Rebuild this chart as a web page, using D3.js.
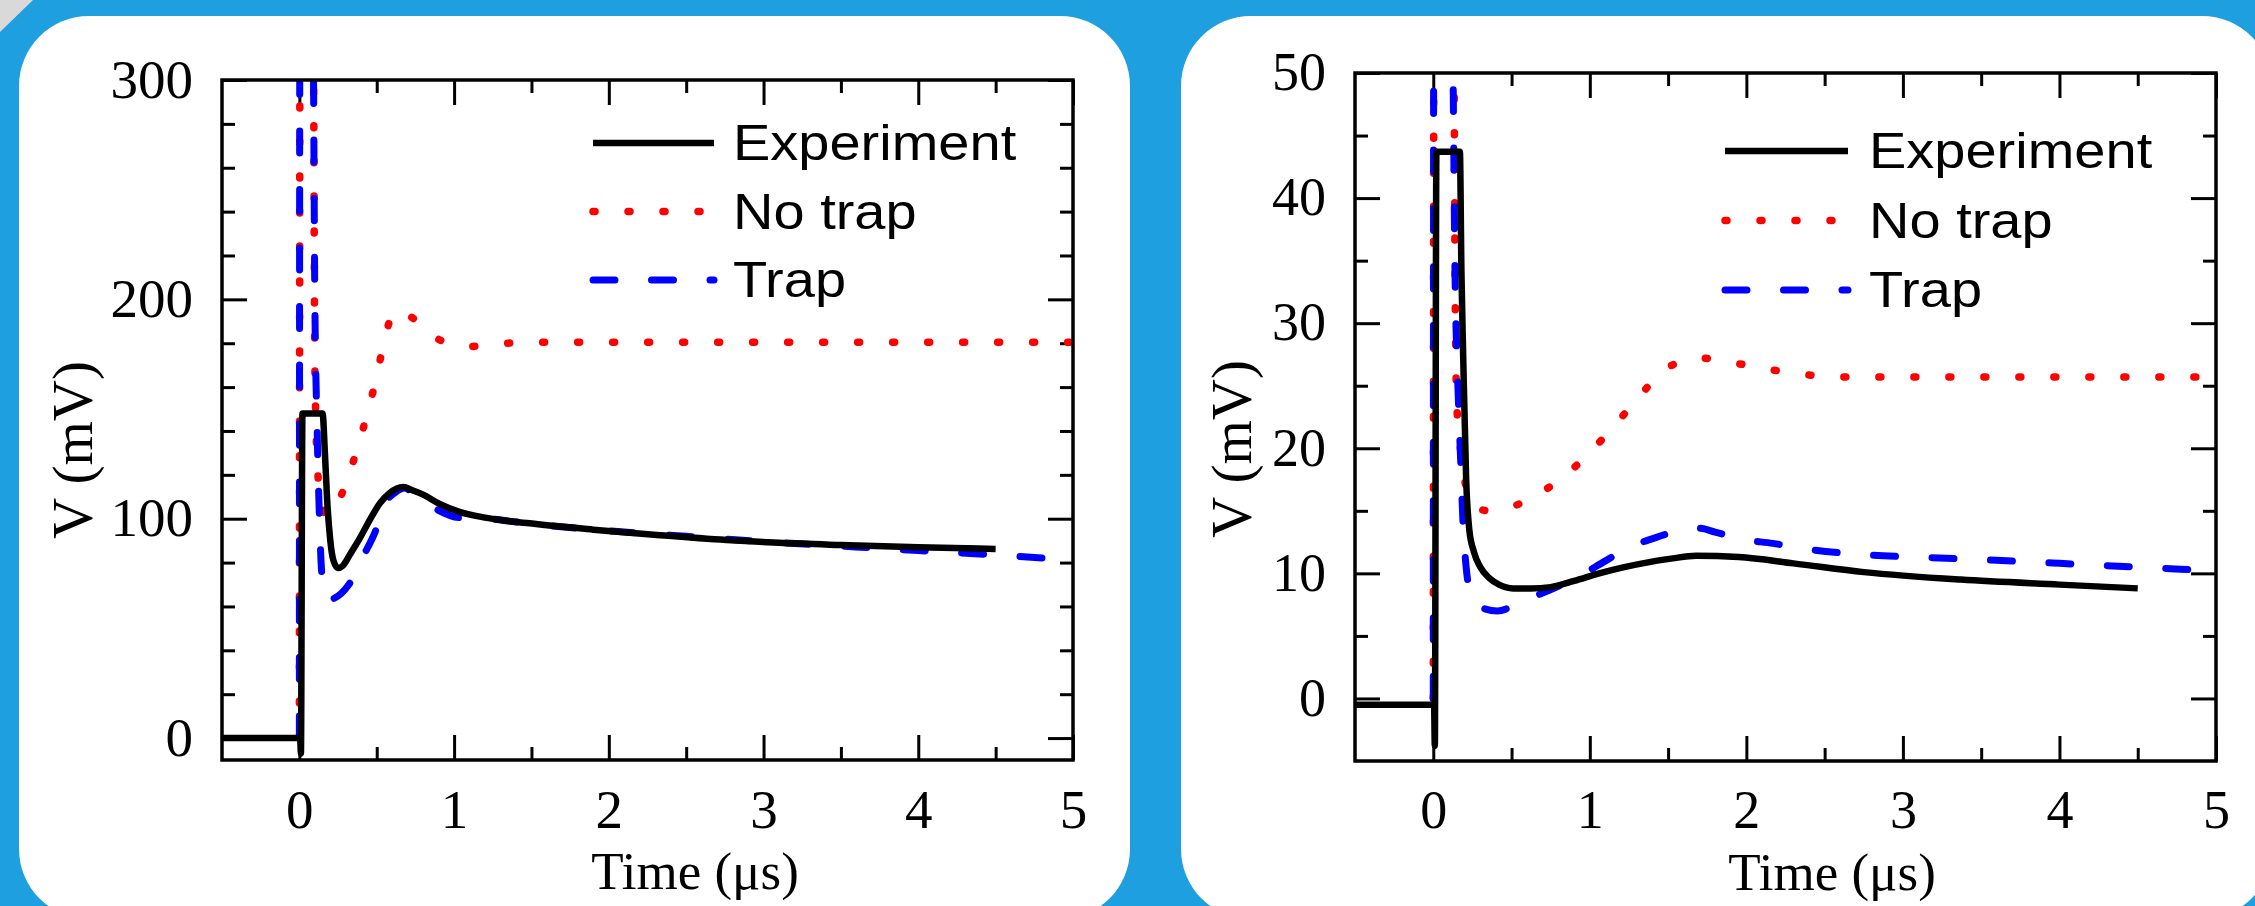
<!DOCTYPE html>
<html>
<head>
<meta charset="utf-8">
<script src="https://cdn.jsdelivr.net/npm/d3@7"></script>
<style>
  html, body { margin: 0; padding: 0; background: #1e9fdf; }
  svg { display: block; }
  .tick line { stroke: #000; stroke-width: 3; }
  .tick text { font-family: "Liberation Serif", "Times New Roman", serif; fill: #000; }
</style>
</head>
<body>
<script>
// --- DATOS ---
// Panel izquierdo: V (mV) vs Time (µs)
const expA = [[-0.5,0],[-0.02,0],[0.005,0],[0.01,-7],[0.02,148],[0.15,148],[0.165,130],[0.18,108],[0.2,90],
  [0.22,81],[0.25,77.5],[0.28,78.5],[0.33,84],[0.39,91],[0.46,100],[0.52,107],[0.58,111.5],[0.63,113.8],
  [0.67,114.4],[0.73,113],[0.8,111],[0.9,107],[1.04,103],[1.2,100.5],[1.47,98],[1.9,95],[2.33,92.5],
  [2.76,90.3],[3.1,89],[3.5,88],[4.0,87],[4.5,86.2]];
const noTrapA = [[0,0],[0.004,320],[0.09,320],[0.1,170],[0.12,120],[0.15,104],[0.19,101],[0.24,106],[0.3,116],
  [0.37,131],[0.435,147],[0.49,162],[0.54,178],[0.6,193],[0.64,195],[0.7,193],[0.76,190],[0.85,184],
  [0.96,180],[1.1,178.5],[1.25,179.5],[1.5,180.5],[5,180.5]];
const trapA = [[0,0],[0.003,320],[0.088,320],[0.1,200],[0.115,140],[0.13,100],[0.145,75],[0.18,63],[0.32,70],
  [0.41,82.6],[0.49,94],[0.555,107],[0.62,112],[0.68,114],[0.77,108.5],[0.855,105.4],[1.03,100.5],[1.23,100],
  [1.4,98.5],[2,94.5],[2.5,92],[3,89.5],[3.5,87.5],[4,85.5],[4.5,83.5],[5,81]];

// Panel derecho
const expB = [[-0.5,-0.5],[0.005,-0.5],[0.01,-3.8],[0.02,43.7],[0.17,43.7],[0.18,34],[0.19,28],[0.21,17.5],
  [0.23,13.5],[0.26,11.7],[0.3,10.5],[0.36,9.6],[0.42,9.1],[0.51,8.8],[0.62,8.8],[0.75,8.9],[0.9,9.4],
  [1.06,10],[1.22,10.5],[1.38,10.9],[1.53,11.2],[1.68,11.4],[1.95,11.3],[2.3,10.8],[2.75,10.1],[3.37,9.5],
  [4,9.1],[4.5,8.8]];
const noTrapB = [[0,0],[0.004,54],[0.13,54],[0.14,32],[0.15,23.6],[0.17,20.4],[0.2,17.5],[0.25,15.6],[0.35,15],
  [0.47,15.2],[0.65,16.2],[0.84,17.8],[1.01,19.8],[1.17,22],[1.32,24.2],[1.48,26.3],[1.6,27],[1.71,27.2],
  [1.93,26.8],[2.15,26.3],[2.37,25.9],[2.6,25.7],[5,25.7]];
const trapB = [[0,0],[0.003,54],[0.12,54],[0.14,33],[0.16,24],[0.175,19],[0.19,14],[0.21,10.5],[0.24,8.3],
  [0.3,7.3],[0.41,7.0],[0.57,7.8],[0.77,8.8],[0.92,9.7],[1.1,11],[1.24,12],[1.43,12.9],[1.6,13.5],[1.7,13.6],
  [1.8,13.3],[1.98,12.7],[2.17,12.4],[2.35,12.0],[2.74,11.5],[3.1,11.3],[3.5,11.1],[4,10.8],[4.5,10.5],[5,10.2]];

// Ejes
const xDomain = [-0.5, 5];
const xMajor = [0, 1, 2, 3, 4, 5];
const xMinor = [0.5, 1.5, 2.5, 3.5, 4.5];
const yMajorA = [0, 100, 200, 300];
const yMinorA = [20, 40, 60, 80, 120, 140, 160, 180, 220, 240, 260, 280];
const yMajorB = [0, 10, 20, 30, 40, 50];
const yMinorB = [5, 15, 25, 35, 45];

const seriesNames = ["Experiment", "No trap", "Trap"];
const xTitle = "Time (\u03BCs)";
const yTitle = "V (mV)";

// --- ESTILOS ---
const styles = [
  { stroke: "#000000", width: 6.5, dash: null },
  { stroke: "#ff0000", width: 7.5, dash: "2,33" },
  { stroke: "#0000ff", width: 7, dash: "22,36.5" }
];

// --- LIENZO ---
const W = 2255, H = 906;
const svg = d3.select("body").append("svg").attr("width", W).attr("height", H);

svg.append("rect").attr("width", W).attr("height", H).attr("fill", "#1e9fdf");
svg.append("path").attr("d", "M0,0L33,0L0,32Z").attr("fill", "#d9d9d9");

// tarjetas blancas
svg.append("rect").attr("x", 19).attr("y", 16).attr("width", 1111).attr("height", 903)
  .attr("rx", 70).attr("fill", "#fff");
svg.append("rect").attr("x", 1181).attr("y", 16).attr("width", 1091).attr("height", 903)
  .attr("rx", 70).attr("fill", "#fff");

function drawPanel(id, data, cfg) {
  const f = cfg.frame;
  const x = d3.scaleLinear().domain(xDomain).range([f.x0, f.x1]);
  const y = d3.scaleLinear().domain(cfg.yDomain).range([f.y1, f.y0]);
  const g = svg.append("g");

  g.append("clipPath").attr("id", "clip-" + id)
    .append("rect").attr("x", f.x0).attr("y", f.y0)
    .attr("width", f.x1 - f.x0).attr("height", f.y1 - f.y0);

  // Ticks (hacia dentro)
  const big = 25, small = 13;
  const addAxis = (axis, tx, ty, labels) => {
    const a = g.append("g").attr("transform", `translate(${tx},${ty})`).call(axis);
    a.select(".domain").remove();
    a.selectAll("text").style("font-size", cfg.tickFont + "px");
    if (!labels) a.selectAll("text").remove();
    return a;
  };
  addAxis(d3.axisBottom(x).tickValues(xMajor).tickSize(-big).tickPadding(29).tickFormat(d3.format("d")), 0, f.y1, true);
  addAxis(d3.axisBottom(x).tickValues(xMinor).tickSize(-small), 0, f.y1, false);
  addAxis(d3.axisTop(x).tickValues(xMajor).tickSize(-big), 0, f.y0, false);
  addAxis(d3.axisTop(x).tickValues(xMinor).tickSize(-small), 0, f.y0, false);
  const yl = addAxis(d3.axisLeft(y).tickValues(cfg.yMajor).tickSize(-big).tickPadding(29).tickFormat(d3.format("d")), f.x0, 0, true);
  yl.selectAll("text").attr("dy", "0.31em");
  addAxis(d3.axisLeft(y).tickValues(cfg.yMinor).tickSize(-small), f.x0, 0, false);
  addAxis(d3.axisRight(y).tickValues(cfg.yMajor).tickSize(-big), f.x1, 0, false);
  addAxis(d3.axisRight(y).tickValues(cfg.yMinor).tickSize(-small), f.x1, 0, false);

  // Curvas
  const line = d3.line().x(d => x(d[0])).y(d => y(d[1])).curve(d3.curveMonotoneX);
  const curves = g.append("g").attr("clip-path", `url(#clip-${id})`);
  [1, 2, 0].forEach(i => {
    curves.append("path")
      .attr("d", line(data[i]))
      .attr("fill", "none")
      .attr("stroke", styles[i].stroke)
      .attr("stroke-width", styles[i].width)
      .attr("stroke-dasharray", styles[i].dash)
      .attr("stroke-linecap", styles[i].dash ? "round" : "butt")
      .attr("stroke-linejoin", "round");
  });

  // Marco
  g.append("rect").attr("x", f.x0).attr("y", f.y0)
    .attr("width", f.x1 - f.x0).attr("height", f.y1 - f.y0)
    .attr("fill", "none").attr("stroke", "#000").attr("stroke-width", 3.5);

  // Leyenda
  const L = cfg.legend;
  seriesNames.forEach((name, i) => {
    const base = L.y + i * L.dy;
    const sy = base - 17;
    g.append("line")
      .attr("x1", f.x0 + L.x1 + 3).attr("x2", f.x0 + L.x2 - 3)
      .attr("y1", sy).attr("y2", sy)
      .attr("stroke", styles[i].stroke)
      .attr("stroke-width", styles[i].width)
      .attr("stroke-dasharray", styles[i].dash)
      .attr("stroke-linecap", styles[i].dash ? "round" : "butt");
    g.append("text")
      .attr("transform", `translate(${f.x0 + L.tx},${base}) scale(1.12,1)`)
      .style("font-family", "'Liberation Sans', Arial, sans-serif")
      .style("font-size", "50px")
      .text(name);
  });

  // Títulos de ejes
  g.append("text")
    .attr("transform", `translate(${cfg.xTitle[0]},${cfg.xTitle[1]})`)
    .attr("text-anchor", "middle")
    .style("font-family", "'Liberation Serif', 'Times New Roman', serif")
    .style("font-size", "53px")
    .text(xTitle);
  g.append("text")
    .attr("transform", `translate(${cfg.yTitle[0]},${cfg.yTitle[1]}) rotate(-90)`)
    .attr("text-anchor", "middle")
    .attr("dy", "0.35em")
    .style("font-family", "'Liberation Serif', 'Times New Roman', serif")
    .style("font-size", "57px")
    .text(yTitle);
}

drawPanel("a", [expA, noTrapA, trapA], {
  frame: { x0: 222, x1: 1073, y0: 80, y1: 760 },
  yDomain: [-10, 300], yMajor: yMajorA, yMinor: yMinorA, tickFont: 55,
  legend: { x1: 368, x2: 495, tx: 511, y: 160, dy: 68.5 },
  xTitle: [695, 889], yTitle: [72, 450]
});

drawPanel("b", [expB, noTrapB, trapB], {
  frame: { x0: 1355, x1: 2216, y0: 73, y1: 761 },
  yDomain: [-5, 50], yMajor: yMajorB, yMinor: yMinorB, tickFont: 54,
  legend: { x1: 367, x2: 496, tx: 514, y: 168, dy: 69.5 },
  xTitle: [1832, 890], yTitle: [1231, 449]
});
</script>
</body>
</html>
